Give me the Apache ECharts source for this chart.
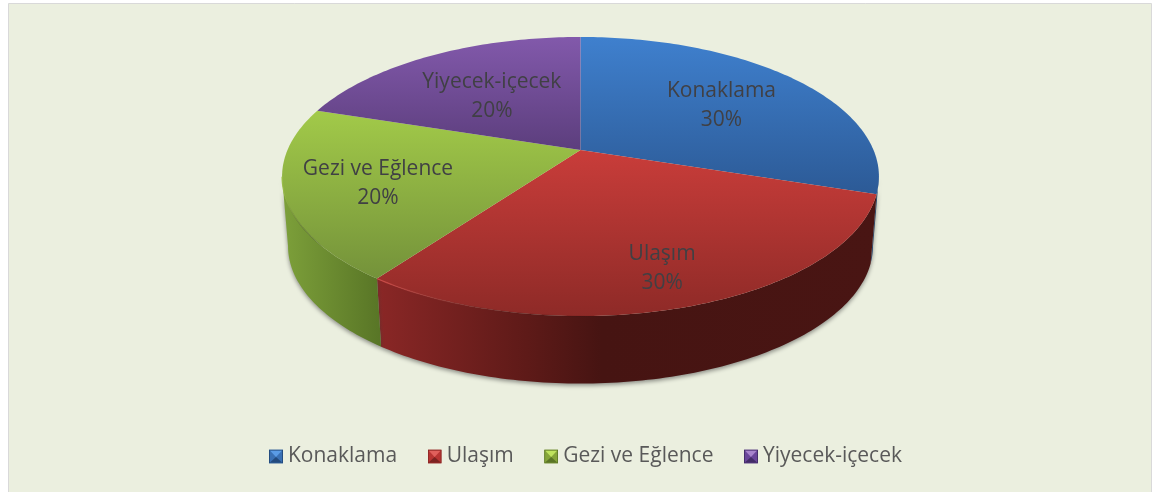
<!DOCTYPE html>
<html>
<head>
<meta charset="utf-8">
<style>
  html, body { margin: 0; padding: 0; background: #fff; }
  #chart { width: 1154px; height: 492px; }
</style>
<script src="https://cdn.jsdelivr.net/npm/echarts@6/dist/echarts.min.js"></script>
</head>
<body>
<div id="chart"></div>
<script>
var categories = ['Konaklama', 'Ulaşım', 'Gezi ve Eğlence', 'Yiyecek-içecek'];
var shares = [30, 30, 20, 20];

// renk: [üst açık, üst koyu], yan yüz durakları, lejant
var topColors = [['#3f80ce', '#2c5a96'], ['#c93d3a', '#8e2a27'], ['#a2ca49', '#74923a'], ['#8259ab', '#5c3e7d']];
var wallColors = [
    [[0, '#2a5185'], [1, '#1c3a62']],
    [[0, '#8a2726'], [0.3, '#5e1a18'], [0.45, '#461412'], [1, '#491513']],
    [[0, '#7da03a'], [1, '#587526']],
    null
];
var rimColors = ['rgba(0,0,0,0)', '#d04c48', '#a3ca4a', 'rgba(0,0,0,0)'];
var legendColors = [['#5a9be6', '#3a70b4', '#234a7d'], ['#e0605c', '#b83533', '#7c2321'], ['#bfe35e', '#86a53a', '#5a7526'], ['#a784cc', '#6a469a', '#432c68']];
var labelRadius = [0.637, 0.775, 0.697, 0.559];

// perspektifli disk
var cx = 580.5, cy = 150, radX = 293, radY = 134.5, tilt = 0.19;
var depth = 70, shrink = 0.98;
var total = shares.reduce(function (a, b) { return a + b; }, 0);

function project(deg, r) {
    var t = deg * Math.PI / 180;
    var w = 1 + tilt * r * Math.cos(t);
    return [cx + radX * r * Math.sin(t) / w, cy - radY * r * Math.cos(t) / w];
}
function lower(p) {
    return [cx + (p[0] - cx) * shrink, cy + (p[1] - cy) * 0.985 + depth];
}
function arc(a, b) {
    var pts = [];
    var n = Math.max(2, Math.ceil(Math.abs(b - a)));
    for (var i = 0; i <= n; i++) pts.push(project(a + (b - a) * i / n, 1));
    return pts;
}
function vert(stops) {
    return { type: 'linear', x: 0, y: 0, x2: 0, y2: 1, colorStops: [{ offset: 0, color: stops[0] }, { offset: 1, color: stops[1] }] };
}
function legendIcon(c) {
    var svg = '<svg xmlns="http://www.w3.org/2000/svg" width="15" height="15">' +
        '<rect width="15" height="15" fill="' + c[1] + '"/>' +
        '<polygon points="1,1 14,1 7.5,8" fill="' + c[0] + '"/>' +
        '<polygon points="1,14 14,14 7.5,8" fill="' + c[2] + '"/>' +
        '<rect x="0.5" y="0.5" width="14" height="14" fill="none" stroke="' + c[2] + '"/></svg>';
    return 'image://data:image/svg+xml,' + encodeURIComponent(svg);
}

function sliceRenderer(idx) {
    var before = shares.slice(0, idx).reduce(function (a, b) { return a + b; }, 0);
    return function (params, api) {
        var a0 = before / total * 360;
        var a1 = (before + api.value(0)) / total * 360;
        var children = [];
        var from = Math.max(a0, 101), to = Math.min(a1, 259);
        if (to > from && wallColors[idx]) {
            var rim = arc(from, to);
            children.push({
                type: 'polygon',
                shape: { points: rim.concat(rim.map(lower).reverse()) },
                style: {
                    fill: {
                        type: 'linear', x: 0, y: 0, x2: 1, y2: 0,
                        colorStops: wallColors[idx].map(function (s) { return { offset: s[0], color: s[1] }; })
                    },
                    shadowColor: 'rgba(60,60,60,0.55)', shadowBlur: 4, shadowOffsetY: 2
                }
            });
        }
        children.push({
            type: 'polygon',
            shape: { points: [[cx, cy]].concat(arc(a0, a1)) },
            style: { fill: vert(topColors[idx]) }
        });
        if (to > from) {
            children.push({
                type: 'polyline',
                shape: { points: arc(from, to) },
                style: {
                    fill: 'none', lineWidth: 1.2,
                    stroke: {
                        type: 'linear', x: 0, y: 0, x2: 1, y2: 0,
                        colorStops: [{ offset: 0, color: rimColors[idx] }, { offset: 0.45, color: 'rgba(0,0,0,0)' }]
                    }
                }
            });
        }
        var mid = project((a0 + a1) / 2, labelRadius[idx]);
        children.push({
            type: 'text',
            x: mid[0], y: mid[1] + 3,
            style: {
                text: categories[idx] + '\n' + api.value(0) + '%',
                align: 'center', verticalAlign: 'middle',
                font: '21px "Open Sans"', lineHeight: 29,
                fill: '#404044'
            }
        });
        return { type: 'group', children: children };
    };
}

var chart = echarts.init(document.getElementById('chart'));

chart.setOption({
    animation: false,
    backgroundColor: '#fff',
    graphic: [{
        type: 'rect', z: -10, silent: true,
        shape: { x: 8.5, y: 3.5, width: 1143, height: 490 },
        style: { fill: '#ebefdf', stroke: '#d9d9d9', lineWidth: 1 }
    }],
    legend: {
        left: 264, top: 441,
        itemWidth: 14, itemHeight: 15, itemGap: 30.5,
        selectedMode: false,
        textStyle: { fontFamily: 'Open Sans', fontSize: 21, color: '#595959' },
        data: categories.map(function (name, i) {
            return { name: name, icon: legendIcon(legendColors[i]) };
        })
    },
    series: categories.map(function (name, i) {
        return {
            name: name,
            type: 'custom',
            coordinateSystem: 'none',
            silent: true,
            itemStyle: { color: topColors[i][0] },
            renderItem: sliceRenderer(i),
            data: [shares[i]]
        };
    })
});
</script>
</body>
</html>
